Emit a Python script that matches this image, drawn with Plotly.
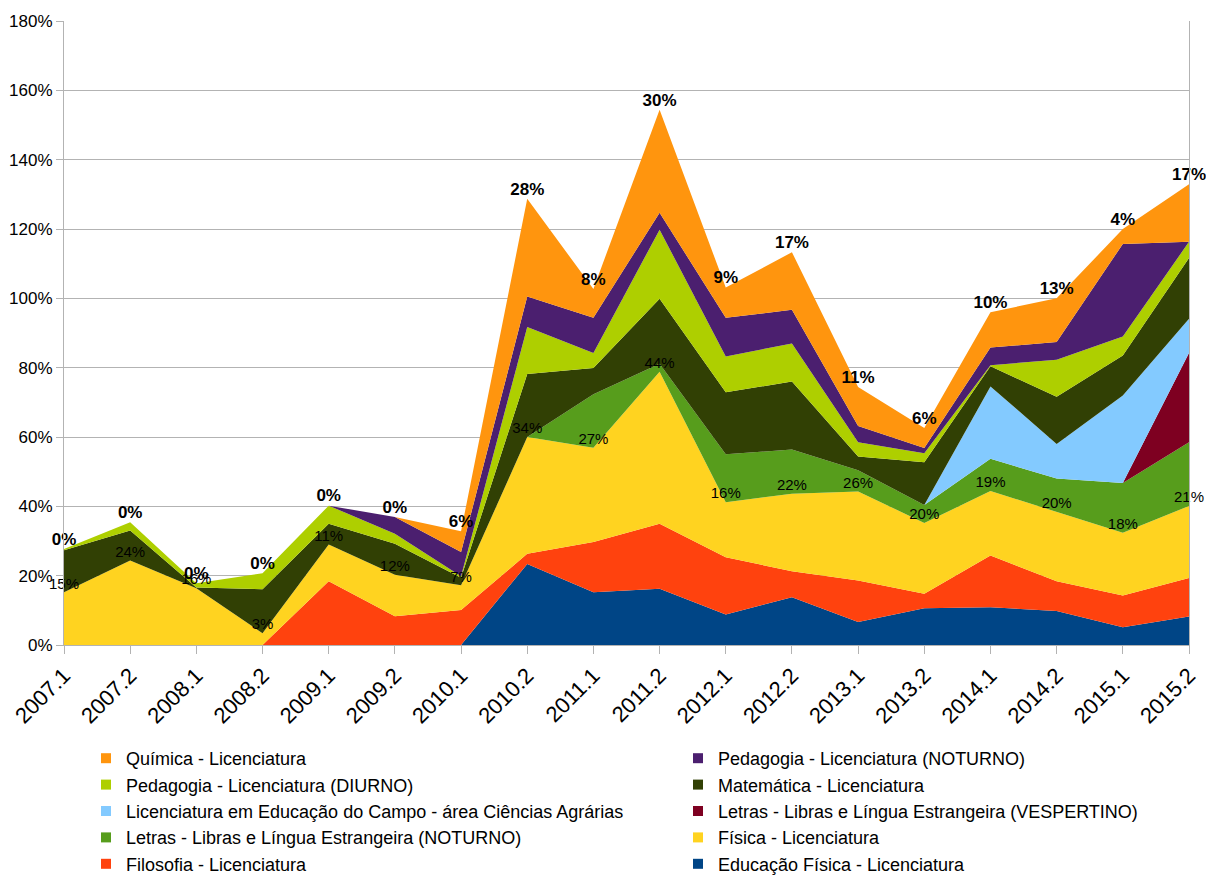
import plotly.graph_objects as go
import numpy as np

periods = ["2007.1", "2007.2", "2008.1", "2008.2", "2009.1", "2009.2", "2010.1", "2010.2", "2011.1",
           "2011.2", "2012.1", "2012.2", "2013.1", "2013.2", "2014.1", "2014.2", "2015.1", "2015.2"]

# values in percent, stacked bottom -> top
educacao_fisica = [0, 0, 0, 0, 0, 0, 0, 23.4, 15.2, 16.2, 8.8, 13.8, 6.6, 10.6, 10.9, 9.8, 5.1, 8.2]
filosofia = [0, 0, 0, 0, 18.4, 8.3, 10.1, 2.9, 14.5, 18.8, 16.5, 7.5, 12.0, 4.2, 14.9, 8.6, 9.2, 11.1]
fisica = [15.2, 24.4, 16.4, 3.4, 10.6, 12.0, 7.1, 33.7, 27.2, 43.8, 15.9, 22.3, 25.7, 20.4, 18.6, 20.1, 18.1, 20.8]
letras_noturno = [0, 0, 0, 0, 0, 0, 0, 0, 15.4, 2.3, 13.8, 12.8, 6.1, 5.2, 9.3, 9.5, 14.3, 18.4]
letras_vespertino = [0, 0, 0, 0, 0, 0, 0, 0, 0, 0, 0, 0, 0, 0, 0, 0, 0, 25.7]
campo = [0, 0, 0, 0, 0, 0, 0, 0, 0, 0, 0, 0, 0, 0, 20.9, 10.0, 25.3, 9.9]
matematica = [12.1, 8.6, 0.2, 12.7, 6.0, 8.9, 2.2, 18.2, 7.6, 18.8, 17.9, 19.6, 4.0, 12.3, 5.8, 13.6, 11.5, 17.5]
pedagogia_diurno = [0.4, 2.4, 1.2, 4.6, 5.2, 2.9, 0.4, 13.5, 4.3, 19.9, 10.3, 11.0, 4.1, 2.6, 0.3, 10.7, 5.5, 4.7]
pedagogia_noturno = [0, 0, 0, 0, 0, 4.8, 7.0, 8.8, 10.2, 4.9, 11.2, 9.7, 4.7, 1.5, 5.1, 5.1, 26.7, 0]
quimica = [0, 0, 0, 0, 0, 0, 6.0, 28.2, 8.3, 29.7, 8.7, 16.6, 11.2, 5.8, 10.2, 12.6, 4.3, 16.6]

series_names = [
    "Educação Física - Licenciatura",
    "Filosofia - Licenciatura",
    "Física - Licenciatura",
    "Letras - Libras e Língua Estrangeira (NOTURNO)",
    "Letras - Libras e Língua Estrangeira (VESPERTINO)",
    "Licenciatura em Educação do Campo - área Ciências Agrárias",
    "Matemática - Licenciatura",
    "Pedagogia - Licenciatura (DIURNO)",
    "Pedagogia - Licenciatura (NOTURNO)",
    "Química - Licenciatura",
]
series_values = [educacao_fisica, filosofia, fisica, letras_noturno, letras_vespertino, campo,
                 matematica, pedagogia_diurno, pedagogia_noturno, quimica]
colors = ["#004586", "#ff420e", "#ffd320", "#579d1c", "#7e0021", "#83caff",
          "#314004", "#aecf00", "#4b1f6f", "#ff950e"]

FONT = "Liberation Sans, Arial, sans-serif"

fig = go.Figure()
for name, vals, col in zip(series_names, series_values, colors):
    fig.add_trace(go.Scatter(
        x=periods, y=vals, name=name, mode="lines", stackgroup="one",
        line=dict(width=0, color=col), fillcolor=col, showlegend=False, hoverinfo="skip"))

# legend entries: reversed order, laid out row by row in two columns
rev_names = series_names[::-1]
rev_colors = colors[::-1]
for i, (name, col) in enumerate(zip(rev_names, rev_colors)):
    fig.add_trace(go.Scatter(
        x=[None], y=[None], mode="markers", name=name,
        legend="legend" if i % 2 == 0 else "legend2",
        marker=dict(symbol="square", size=10, color=col), showlegend=True))

arr = np.array(series_values)
total = arr.sum(axis=0)
fisica_top = arr[:3].sum(axis=0)


def pct(v):
    return f"{int(np.floor(v + 0.5))}%"


fig.add_trace(go.Scatter(
    x=periods, y=fisica_top, mode="text", text=[pct(v) for v in fisica],
    textposition="top center", textfont=dict(family=FONT, size=15, color="#000000"),
    showlegend=False, hoverinfo="skip", cliponaxis=False))
fig.add_trace(go.Scatter(
    x=periods, y=total, mode="text", text=[pct(v) for v in quimica],
    textposition="top center", textfont=dict(family=FONT, size=17, color="#000000", weight="bold"),
    showlegend=False, hoverinfo="skip", cliponaxis=False))

legend_common = dict(orientation="v", xref="container", yref="container", yanchor="top",
                     xanchor="left", y=1 - 740 / 877, font=dict(size=18, family=FONT),
                     traceorder="normal", itemwidth=30, bgcolor="rgba(0,0,0,0)", tracegroupgap=0)

fig.update_layout(
    width=1206, height=877,
    margin=dict(l=64, r=17, t=21, b=232, autoexpand=False),
    paper_bgcolor="white", plot_bgcolor="white",
    font=dict(family=FONT, color="#000000"),
    showlegend=True,
    legend=dict(x=86 / 1206, **legend_common),
    legend2=dict(x=678 / 1206, **legend_common),
    xaxis=dict(type="category", range=[0, 17], showgrid=False, showline=True, automargin=False,
               linecolor="#b3b3b3", linewidth=1, ticks="outside", ticklen=8,
               tickcolor="#b3b3b3", tickangle=-45, tickfont=dict(size=22, family=FONT)),
    yaxis=dict(range=[0, 180], dtick=20, ticksuffix="%", showgrid=True, gridcolor="#b3b3b3",
               showline=True, linecolor="#b3b3b3", mirror=True, ticks="outside", ticklen=7,
               automargin=False, tickcolor="#b3b3b3", tickfont=dict(size=17, family=FONT),
               zeroline=False),
)

fig.write_html("out.html", config={"displayModeBar": False},
               post_script="document.body.style.margin='0';")
